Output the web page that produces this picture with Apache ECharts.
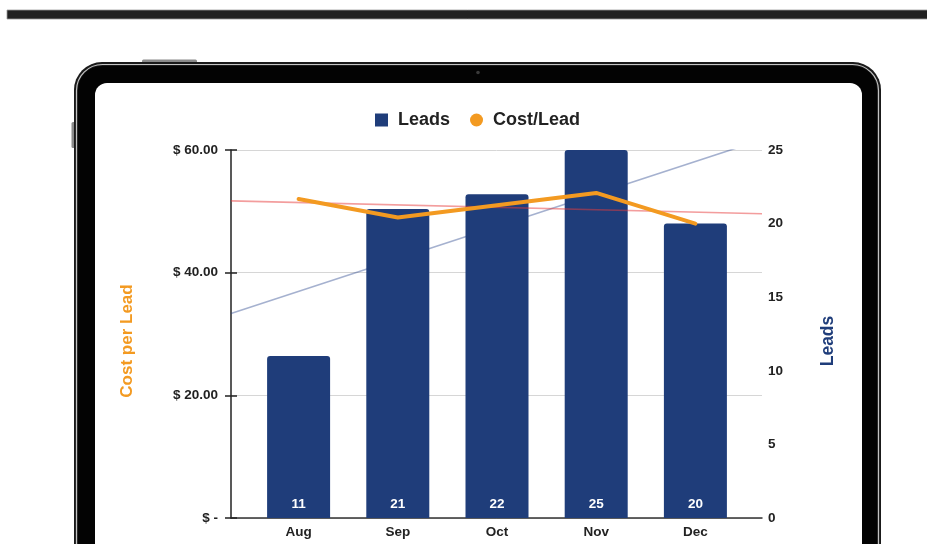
<!DOCTYPE html>
<html>
<head>
<meta charset="utf-8">
<script src="https://cdn.jsdelivr.net/npm/echarts@6/dist/echarts.min.js"></script>
<style>
html,body{margin:0;padding:0;background:#fff;}
#chart{width:927px;height:544px;}
</style>
</head>
<body>
<div id="chart"></div>
<script>
// ---- data ----
var months = ['Aug', 'Sep', 'Oct', 'Nov', 'Dec'];
var leads = [11, 21, 22, 25, 20];
var costPerLead = [52, 49, 51, 53, 48];
// trend lines: value at left edge and right edge of plot
var costTrendEnds = [51.7, 49.6];
var leadsTrendEnds = [13.9, 25.7];
var costTicks = [0, 20, 40, 60];
var costTickLabels = ['$ -', '$ 20.00', '$ 40.00', '$ 60.00'];
var leadsTicks = [0, 5, 10, 15, 20, 25];
var leadsTickLabels = ['0', '5', '10', '15', '20', '25'];

var NAVY = '#1f3d7a';
var ORANGE = '#f39a21';
var FONT = '"Liberation Sans", Arial, Helvetica, sans-serif';

var chart = echarts.init(document.getElementById('chart'), null, {renderer: 'canvas'});

var option = {
  backgroundColor: '#fff',
  animation: false,
  textStyle: {fontFamily: FONT},
  graphic: [
    // top bar
    {type: 'rect', z: -100, shape: {x: 7, y: 10, width: 925, height: 9}, style: {fill: '#222', stroke: '#9a9a9a', lineWidth: 0.8}},
    // side buttons
    {type: 'rect', z: -100, shape: {x: 142, y: 59.5, width: 55, height: 4, r: 1.5}, style: {fill: '#8a8a8a'}},
    {type: 'rect', z: -100, shape: {x: 71.5, y: 122, width: 4, height: 26, r: 1.5}, style: {fill: '#8a8a8a'}},
    // tablet outer frame
    {type: 'rect', z: -100, shape: {x: 74, y: 62, width: 807, height: 700, r: 28}, style: {fill: '#1a1a1a'}},
    {type: 'rect', z: -99, shape: {x: 76.5, y: 64.5, width: 802, height: 700, r: 26}, style: {fill: null, stroke: '#c4c4c4', lineWidth: 1.2}},
    {type: 'rect', z: -98, shape: {x: 78, y: 66, width: 799, height: 700, r: 24}, style: {fill: '#030303'}},
    // screen
    {type: 'rect', z: -97, shape: {x: 95, y: 83, width: 767, height: 700, r: 12}, style: {fill: '#ffffff'}},
    // camera
    {type: 'circle', z: -96, shape: {cx: 478, cy: 72.5, r: 1.8}, style: {fill: '#3a3a3a'}}
  ],
  legend: {
    top: 106,
    left: 370,
    itemWidth: 13,
    itemHeight: 13,
    itemGap: 20,
    textStyle: {fontSize: 18, fontWeight: 'bold', color: '#222', fontFamily: FONT, padding: [0, 0, 0, 5]},
    data: [{name: 'Leads', icon: 'rect'}, {name: 'Cost/Lead', icon: 'circle'}]
  },
  grid: [
    {left: 231, right: 165, top: 150, bottom: 26},
    {left: 249, right: 182, top: 150, bottom: 26}
  ],
  xAxis: [
    {
      type: 'value', gridIndex: 0, min: 0, max: 1,
      axisLine: {show: true, onZero: false, lineStyle: {color: '#333', width: 1.5}},
      axisTick: {show: false}, axisLabel: {show: false}, splitLine: {show: false}
    },
    {
      type: 'category', gridIndex: 1, data: months,
      axisLine: {show: false}, axisTick: {show: false},
      axisLabel: {margin: 7, fontSize: 13.5, fontWeight: 'bold', color: '#222', fontFamily: FONT}
    }
  ],
  yAxis: [
    {
      type: 'value', gridIndex: 0, position: 'left', min: 0, max: 60, interval: 20,
      name: 'Cost per Lead', nameLocation: 'middle', nameGap: 95,
      nameTextStyle: {color: ORANGE, fontSize: 17, fontWeight: 'bold', fontFamily: FONT, padding: [0, 14, 0, 0]},
      axisLine: {show: true, lineStyle: {color: '#222', width: 1.5}},
      axisTick: {show: true, length: 6, lineStyle: {color: '#222', width: 1.5}},
      axisLabel: {
        margin: 13, fontSize: 13.5, fontWeight: 'bold', color: '#222', fontFamily: FONT,
        formatter: function (v) { var i = costTicks.indexOf(v); return i >= 0 ? costTickLabels[i] : ''; }
      },
      splitLine: {show: true, lineStyle: {color: '#d6d6d6', width: 1}}
    },
    {
      type: 'value', gridIndex: 0, position: 'right', min: 0, max: 25, interval: 5,
      name: 'Leads', nameLocation: 'middle', nameGap: 57,
      nameTextStyle: {color: NAVY, fontSize: 17.5, fontWeight: 'bold', fontFamily: FONT, padding: [0, 14, 0, 0]},
      axisLine: {show: false}, axisTick: {show: false},
      axisLabel: {
        margin: 6, fontSize: 13.5, fontWeight: 'bold', color: '#222', fontFamily: FONT,
        formatter: function (v) { var i = leadsTicks.indexOf(v); return i >= 0 ? leadsTickLabels[i] : ''; }
      },
      splitLine: {show: false}
    },
    {
      type: 'value', gridIndex: 0, position: 'left', min: 0, max: 60, interval: 20,
      axisLine: {show: false},
      axisTick: {show: true, inside: true, length: 6, lineStyle: {color: '#222', width: 1.5}},
      axisLabel: {show: false}, splitLine: {show: false}
    },
    {type: 'value', gridIndex: 1, min: 0, max: 60, show: false},
    {type: 'value', gridIndex: 1, min: 0, max: 25, show: false}
  ],
  series: [
    {
      name: 'leadsTrend', type: 'line', xAxisIndex: 0, yAxisIndex: 1,
      data: [[0, leadsTrendEnds[0]], [1, leadsTrendEnds[1]]],
      symbol: 'none', z: 1, silent: true, clip: true,
      lineStyle: {color: 'rgba(40,70,140,0.42)', width: 1.6}
    },
    {
      name: 'Leads', type: 'bar', xAxisIndex: 1, yAxisIndex: 4,
      data: leads, barWidth: 63, z: 2,
      itemStyle: {color: NAVY, borderRadius: [3, 3, 0, 0]},
      label: {show: true, position: 'insideBottom', distance: 7, color: '#fff', fontSize: 13.5, fontWeight: 'bold', fontFamily: FONT}
    },
    {
      name: 'costTrend', type: 'line', xAxisIndex: 0, yAxisIndex: 0,
      data: [[0, costTrendEnds[0]], [1, costTrendEnds[1]]],
      symbol: 'none', z: 3, silent: true,
      lineStyle: {color: 'rgba(232,60,60,0.5)', width: 1.6}
    },
    {
      name: 'Cost/Lead', type: 'line', xAxisIndex: 1, yAxisIndex: 3,
      data: costPerLead, symbol: 'none', showSymbol: false, z: 4,
      itemStyle: {color: ORANGE},
      lineStyle: {color: ORANGE, width: 4, join: 'round', cap: 'round'}
    }
  ]
};
chart.setOption(option);
</script>
</body>
</html>
